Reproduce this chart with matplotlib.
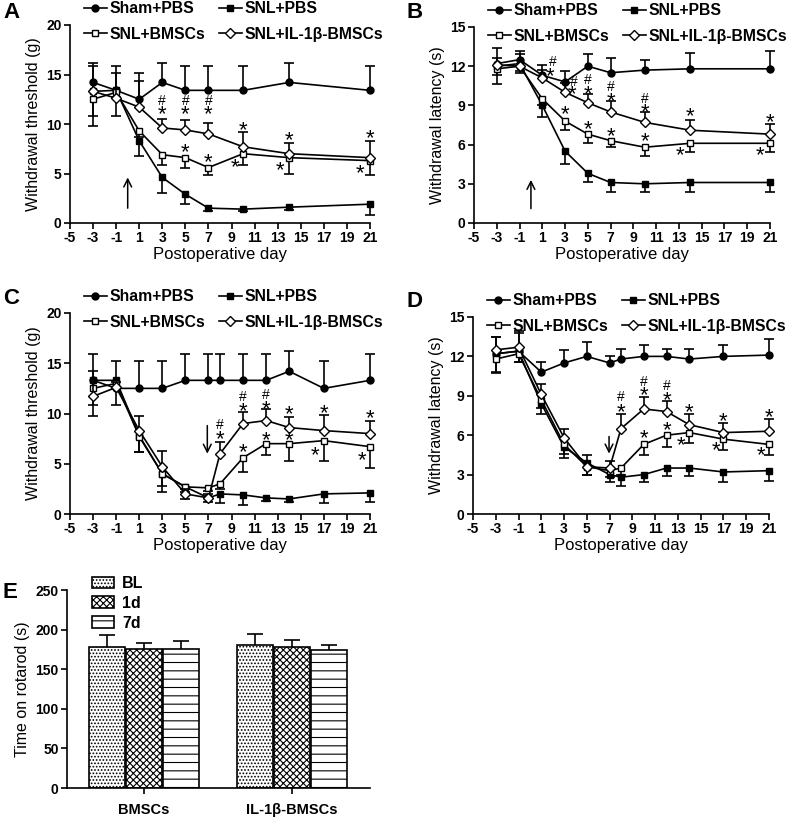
import matplotlib
matplotlib.use("Agg")
import matplotlib.pyplot as plt
from matplotlib.lines import Line2D
from matplotlib.transforms import offset_copy

plt.rcParams['font.family'] = ['Liberation Sans', 'DejaVu Sans']
plt.rcParams['hatch.linewidth'] = 0.8
plt.rcParams['axes.unicode_minus'] = False

# ---- data ---------------------------------------------------------------
GROUPS = ['Sham+PBS', 'SNL+PBS', 'SNL+BMSCs', 'SNL+IL-1β-BMSCs']
DAYS_AB = [-3, -1, 1, 3, 5, 7, 10, 14, 21]
DAYS_CD = [-3, -1, 1, 3, 5, 7, 8, 10, 12, 14, 17, 21]

# A: withdrawal threshold (g)
A_SHAM = [14.2, 13.4, 12.5, 14.2, 13.4, 13.4, 13.4, 14.2, 13.4]
A_SHAM_ERR = [2.0, 2.5, 2.7, 2.0, 2.5, 2.5, 2.5, 2.0, 2.5]
A_SNL = [13.3, 13.4, 8.3, 4.6, 2.9, 1.5, 1.4, 1.6, 1.9]
A_SNL_ERR = [3.5, 2.6, 1.5, 1.6, 1.0, 0.3, 0.2, 0.3, 1.1]
A_BMSC = [12.5, 13.2, 9.3, 6.9, 6.6, 5.6, 7.0, 6.6, 6.3]
A_BMSC_ERR = [1.7, 0.5, 0.6, 1.0, 1.0, 0.8, 1.1, 1.6, 1.5]
A_IL1B = [13.3, 12.6, 11.7, 9.6, 9.4, 9.0, 7.7, 7.0, 6.6]
A_IL1B_ERR = [2.6, 2.6, 2.6, 0.9, 1.0, 1.1, 1.5, 1.1, 1.7]

# B: withdrawal latency (s)
B_SHAM = [12.2, 12.5, 11.3, 10.8, 12.0, 11.5, 11.7, 11.8, 11.8]
B_SHAM_ERR = [1.2, 0.7, 0.8, 0.8, 0.9, 1.1, 0.8, 1.2, 1.4]
B_SNL = [12.0, 12.2, 9.0, 5.5, 3.8, 3.1, 3.0, 3.1, 3.1]
B_SNL_ERR = [1.4, 0.7, 0.9, 1.0, 0.7, 0.7, 0.6, 0.7, 0.7]
B_BMSC = [11.8, 12.0, 9.5, 7.8, 6.8, 6.3, 5.8, 6.1, 6.1]
B_BMSC_ERR = [0.5, 0.4, 0.5, 0.7, 0.7, 0.5, 0.7, 0.7, 0.7]
B_IL1B = [12.1, 12.0, 11.1, 10.0, 9.2, 8.5, 7.7, 7.1, 6.8]
B_IL1B_ERR = [0.5, 0.9, 0.6, 0.7, 0.7, 0.8, 0.8, 0.8, 0.8]

# C: withdrawal threshold (g)
C_SHAM = [13.3, 12.5, 12.5, 12.5, 13.3, 13.3, 13.3, 13.3, 13.3, 14.2, 12.5, 13.3]
C_SHAM_ERR = [2.6, 2.7, 2.7, 2.7, 2.6, 2.6, 2.6, 2.6, 2.6, 2.0, 2.7, 2.6]
C_SNL = [13.3, 13.3, 7.8, 4.0, 2.7, 1.6, 2.0, 1.9, 1.6, 1.5, 2.0, 2.1]
C_SNL_ERR = [3.5, 2.5, 1.6, 1.8, 1.2, 0.4, 0.9, 1.0, 0.3, 0.3, 0.9, 0.9]
C_BMSC = [12.5, 13.0, 7.7, 4.0, 2.7, 2.6, 3.0, 5.6, 7.0, 7.0, 7.3, 6.7]
C_BMSC_ERR = [1.7, 0.5, 1.5, 1.2, 0.5, 0.3, 0.5, 1.4, 1.1, 1.7, 2.0, 2.1]
C_IL1B = [11.7, 12.6, 8.3, 4.7, 2.0, 1.6, 6.0, 9.0, 9.3, 8.6, 8.3, 8.0]
C_IL1B_ERR = [2.5, 0.5, 1.5, 1.6, 0.5, 0.4, 1.2, 1.1, 1.1, 1.1, 1.6, 1.3]

# D: withdrawal latency (s)
D_SHAM = [12.2, 12.4, 10.8, 11.5, 12.0, 11.5, 11.8, 12.0, 12.0, 11.8, 12.0, 12.1]
D_SHAM_ERR = [1.3, 1.4, 0.8, 1.0, 1.1, 0.5, 0.8, 0.9, 0.6, 0.8, 0.9, 1.2]
D_SNL = [12.2, 12.4, 8.4, 5.1, 3.9, 3.0, 2.8, 3.0, 3.5, 3.5, 3.2, 3.3]
D_SNL_ERR = [1.4, 0.8, 0.8, 0.8, 0.9, 0.6, 0.7, 0.6, 0.6, 0.6, 0.8, 0.8]
D_BMSC = [11.8, 12.2, 8.7, 5.3, 3.6, 3.3, 3.5, 5.3, 6.0, 6.2, 5.7, 5.3]
D_BMSC_ERR = [1.1, 0.6, 0.6, 0.7, 0.6, 0.5, 0.5, 0.8, 0.9, 0.8, 0.8, 0.8]
D_IL1B = [12.5, 12.7, 9.1, 5.8, 3.6, 3.5, 6.5, 8.0, 7.8, 6.8, 6.2, 6.3]
D_IL1B_ERR = [1.0, 1.2, 0.8, 0.7, 0.9, 0.5, 1.1, 0.9, 0.8, 0.8, 0.7, 0.9]

# E: time on rotarod (s)
E_GROUPS = ['BMSCs', 'IL-1β-BMSCs']
E_TIMES = ['BL', '1d', '7d']
E_BL = [178, 180]
E_BL_ERR = [15, 14]
E_1D = [175, 178]
E_1D_ERR = [8, 9]
E_7D = [176, 174]
E_7D_ERR = [9, 7]

# significance marks (x, y, text) and arrows (x, tail, tip)
A_MARKS = [(3, 11.3, '*'), (3, 12.4, '#'), (5, 11.3, '*'), (5, 12.4, '#'),
           (7, 11.3, '*'), (7, 12.4, '#'), (10, 9.7, '*'), (14, 8.7, '*'),
           (21, 8.9, '*'), (5, 7.5, '*'), (7, 6.5, '*'), (9.3, 6.0, '*'),
           (13.2, 5.7, '*'), (20.1, 5.4, '*')]
B_MARKS = [(1.7, 11.5, '*'), (1.9, 12.4, '#'), (3.6, 10.1, '*'), (3.8, 10.9, '#'),
           (5, 10.1, '*'), (5, 11.0, '#'), (7, 9.6, '*'), (7, 10.5, '#'),
           (10, 8.7, '*'), (10, 9.6, '#'), (14, 8.4, '*'), (21, 8.0, '*'),
           (3, 8.6, '*'), (5, 7.4, '*'), (7, 6.9, '*'), (10, 6.5, '*'),
           (13.1, 5.45, '*'), (20.1, 5.45, '*')]
C_MARKS = [(8, 7.8, '*'), (8, 9.0, '#'), (10, 10.6, '*'), (10, 11.7, '#'),
           (12, 10.8, '*'), (12, 11.9, '#'), (14, 10.3, '*'), (17, 10.4, '*'),
           (21, 9.85, '*'), (10, 6.5, '*'), (12, 7.7, '*'), (14, 7.7, '*'),
           (16.2, 6.2, '*'), (20.3, 5.7, '*')]
D_MARKS = [(8, 8.0, '*'), (8, 8.95, '#'), (10, 9.3, '*'), (10, 10.15, '#'),
           (12, 8.95, '*'), (12, 9.8, '#'), (14, 8.0, '*'), (17, 7.3, '*'),
           (21, 7.6, '*'), (10, 6.0, '*'), (12, 6.65, '*'), (13.3, 5.5, '*'),
           (16.35, 5.1, '*'), (20.3, 4.75, '*')]

W, H = 787, 818
fig = plt.figure(figsize=(W / 100, H / 100), dpi=100)


def px_axes(left, top, right, bottom):
    return fig.add_axes([left / W, 1 - bottom / H, (right - left) / W, (bottom - top) / H])


def style_axes(ax):
    for s in ['top', 'right']:
        ax.spines[s].set_visible(False)
    for s in ['left', 'bottom']:
        ax.spines[s].set_linewidth(1.2)
    ax.tick_params(width=1.2, length=4, labelsize=10, pad=2)
    for lab in ax.get_xticklabels() + ax.get_yticklabels():
        lab.set_fontweight('bold')


MARKERS = [dict(marker='o', mfc='black'), dict(marker='s', mfc='black'),
           dict(marker='s', mfc='white'), dict(marker='D', mfc='white', markersize=5.5)]
DIRECTION = [1, -1, -1, 1]  # error bars drawn up or down
STAR_SIZE, HASH_SIZE = 16, 10


def line_panel(ax, days, series, errors, ymax, ystep, ylabel, marks, arrow, letter, lx):
    for i, (vals, errs) in enumerate(zip(series, errors)):
        d = DIRECTION[i]
        ends = [v + d * e for v, e in zip(vals, errs)]
        ax.vlines(days, vals, ends, color='black', lw=1.2, zorder=2 + i, clip_on=False)
        ax.plot(days, ends, ls='none', marker='_', ms=7, mew=1.2, color='black',
                zorder=2 + i, clip_on=False)
        kw = dict(MARKERS[i])
        kw.setdefault('markersize', 5)
        ax.plot(days, vals, color='black', lw=1.2, mec='black', mew=1.0,
                zorder=3 + i, clip_on=False, **kw)
    # glyphs placed on their baseline, shifted so the ink is centred on y
    star_tr = offset_copy(ax.transData, fig=fig, y=-0.42 * STAR_SIZE, units='points')
    hash_tr = offset_copy(ax.transData, fig=fig, y=-0.36 * HASH_SIZE, units='points')
    for x, y, t in marks:
        if t == '*':
            ax.text(x, y, t, ha='center', va='baseline', fontsize=STAR_SIZE,
                    transform=star_tr, zorder=10)
        else:
            ax.text(x, y, t, ha='center', va='baseline', fontsize=HASH_SIZE,
                    transform=hash_tr, zorder=10)
    ax_x, tail, tip = arrow
    ax.annotate('', xy=(ax_x, tip), xytext=(ax_x, tail),
                arrowprops=dict(arrowstyle='->', lw=1.1, color='black',
                                mutation_scale=14, shrinkA=0, shrinkB=0))
    ax.set_xlim(-5, 21)
    ax.set_ylim(0, ymax)
    ax.set_xticks(range(-5, 22, 2))
    ax.set_yticks(range(0, ymax + 1, ystep))
    ax.set_ylabel(ylabel, fontsize=11.5, labelpad=4)
    ax.set_xlabel('Postoperative day', fontsize=12, labelpad=1)
    style_axes(ax)
    handles = []
    for i in range(4):
        kw = dict(MARKERS[i])
        kw.setdefault('markersize', 5)
        handles.append(Line2D([], [], color='black', lw=1.2, mec='black', **kw))
    # legend fills column-wise; order so rows read Sham/SNL then BMSCs/IL-1b
    order = [0, 2, 1, 3]
    bb = ax.get_position()
    ax.legend([handles[k] for k in order], [GROUPS[k] for k in order], ncol=2,
              loc='upper left', frameon=False,
              bbox_to_anchor=(bb.x0 + 14 / W, bb.y1 + 24 / H), bbox_transform=fig.transFigure,
              prop=dict(weight='bold', size=11.3), handlelength=1.45, handletextpad=0.2,
              columnspacing=0.85, labelspacing=0.7, borderpad=0, borderaxespad=0)
    fig.text(lx[0] / W, 1 - lx[1] / H, letter, fontsize=16, fontweight='bold',
             ha='left', va='top')


ax_a = px_axes(70, 25, 370, 223)
line_panel(ax_a, DAYS_AB, [A_SHAM, A_SNL, A_BMSC, A_IL1B],
           [A_SHAM_ERR, A_SNL_ERR, A_BMSC_ERR, A_IL1B_ERR],
           20, 5, 'Withdrawal threshold (g)', A_MARKS, (0, 1.5, 4.6), 'A', (3, 2))

ax_b = px_axes(474, 27, 770, 223)
line_panel(ax_b, DAYS_AB, [B_SHAM, B_SNL, B_BMSC, B_IL1B],
           [B_SHAM_ERR, B_SNL_ERR, B_BMSC_ERR, B_IL1B_ERR],
           15, 3, 'Withdrawal latency (s)', B_MARKS, (0, 1.1, 3.3), 'B', (406, 2))

ax_c = px_axes(70, 313, 370, 514)
line_panel(ax_c, DAYS_CD, [C_SHAM, C_SNL, C_BMSC, C_IL1B],
           [C_SHAM_ERR, C_SNL_ERR, C_BMSC_ERR, C_IL1B_ERR],
           20, 5, 'Withdrawal threshold (g)', C_MARKS, (6.9, 8.8, 6.0), 'C', (3, 288))

ax_d = px_axes(473, 317, 769, 514)
line_panel(ax_d, DAYS_CD, [D_SHAM, D_SNL, D_BMSC, D_IL1B],
           [D_SHAM_ERR, D_SNL_ERR, D_BMSC_ERR, D_IL1B_ERR],
           15, 3, 'Withdrawal latency (s)', D_MARKS, (6.95, 5.9, 4.6), 'D', (406, 291))

# ---- panel E: grouped bars --------------------------------------------------
ax_e = px_axes(67, 590, 370, 788)
hatches = ['.....', 'xxxxx', '--']
bar_vals = [E_BL, E_1D, E_7D]
bar_errs = [E_BL_ERR, E_1D_ERR, E_7D_ERR]
centers = [1, 5]
for j, (vals, errs, hatch, name) in enumerate(zip(bar_vals, bar_errs, hatches, E_TIMES)):
    xs = [c + (j - 1) for c in centers]
    tops = [v + e for v, e in zip(vals, errs)]
    ax_e.bar(xs, vals, width=0.96, color='white', edgecolor='black', linewidth=1.2,
             hatch=hatch, label=name, zorder=2)
    ax_e.vlines(xs, vals, tops, color='black', lw=1.2, zorder=3)
    ax_e.plot(xs, tops, ls='none', marker='_', ms=11, mew=1.2, color='black', zorder=3)
ax_e.set_xlim(-1.08, 7.1)
ax_e.set_ylim(0, 250)
ax_e.set_yticks(range(0, 251, 50))
ax_e.set_xticks(centers)
ax_e.set_xticklabels(E_GROUPS)
ax_e.set_ylabel('Time on rotarod (s)', fontsize=11.5, labelpad=4)
style_axes(ax_e)
ax_e.tick_params(axis='x', labelsize=10.5, pad=7)
ax_e.legend(loc='upper left', frameon=False, bbox_to_anchor=(92 / W, 1 - 576 / H),
            bbox_transform=fig.transFigure, prop=dict(weight='bold', size=11.5),
            handlelength=1.4, handleheight=0.75, handletextpad=0.5, labelspacing=0.3,
            borderpad=0, borderaxespad=0)
fig.text(3 / W, 1 - 582 / H, 'E', fontsize=16, fontweight='bold', ha='left', va='top')

fig.savefig('out.png', dpi=100)
